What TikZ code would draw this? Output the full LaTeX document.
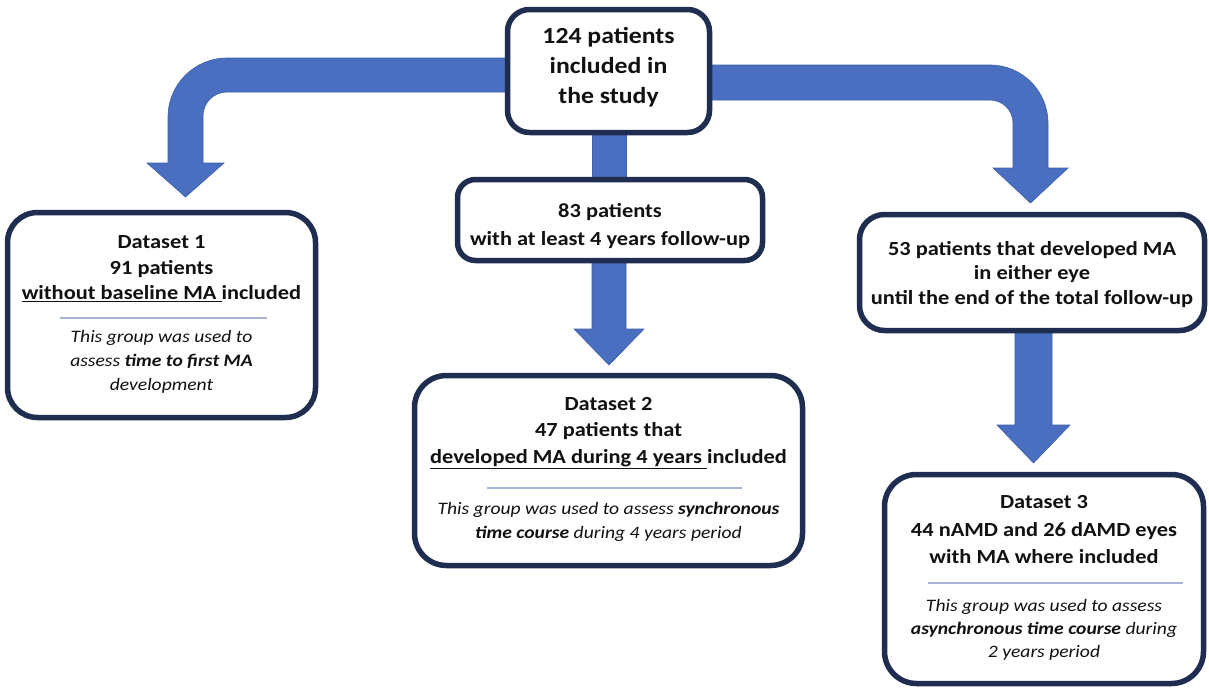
\documentclass[tikz,border=0pt]{standalone}
\usepackage{fontspec}
\setmainfont{Carlito}[FakeStretch=1.12]
\usetikzlibrary{calc}
\definecolor{navy}{HTML}{1F2D50}
\definecolor{arrowblue}{HTML}{4A6FC0}
\definecolor{arrowedge}{HTML}{3D5DA8}
\definecolor{seprule}{HTML}{A7B3DA}
\definecolor{txt}{HTML}{111111}
\begin{document}
\begin{tikzpicture}[x=1pt,y=-1pt,
  flowbox/.style={draw=navy, line width=5.5pt, fill=white, rounded corners=#1, inner sep=0pt, outer sep=0pt},
  blockarrow/.style={fill=arrowblue, draw=arrowedge, line width=0.6pt, line join=miter},
  boldtext/.style={text=txt, align=center, inner sep=0pt, font=\fontsize{20}{#1}\selectfont\bfseries},
  italtext/.style={text=txt, align=center, inner sep=0pt, font=\fontsize{17.5}{#1}\selectfont\itshape},
  sepline/.style={draw=seprule, line width=1.5pt}]
\fill[white] (0,0) rectangle (1209,689);
\useasboundingbox (0,0) rectangle (1209,689);

% boxes (positions)
\coordinate (cTop) at (608.5,71);
\coordinate (cB83) at (610,220);
\coordinate (cD1) at (161.5,315);
\coordinate (cD2) at (608.5,470.5);
\coordinate (cR53) at (1032,272.5);
\coordinate (cD3) at (1044,579);

% arrows (drawn first, boxes cover their ends)
\filldraw[blockarrow] (cTop |- 0,58) -- (227,58) .. controls (194.4,58) and (168,84.4) .. (168,117)
  -- (168,163) -- (147,163) -- (185.5,197) -- (224,163) -- (203,163) -- (203,116)
  .. controls (203,102.7) and (213.7,92) .. (227,92) -- (cTop |- 0,92) -- cycle;
\filldraw[blockarrow] (cTop |- 0,65) -- (990,65) .. controls (1022,65) and (1048,91) .. (1048,123)
  -- (1048,168) -- (1068,168) -- (1030.5,203) -- (993,168) -- (1013,168) -- (1013,123)
  .. controls (1013,110.3) and (1002.7,100) .. (990,100) -- (cTop |- 0,100) -- cycle;
\filldraw[blockarrow] (cTop -| 592,0) -- (cB83 -| 592,0) -- (cB83 -| 626,0) -- (cTop -| 626,0) -- cycle;
\filldraw[blockarrow] (cB83 -| 592,0) -- (592,329) -- (574,329) -- (609,365) -- (644,329) -- (626,329) -- (cB83 -| 626,0) -- cycle;
\filldraw[blockarrow] (cR53 -| 1015,0) -- (1015,425) -- (997,425) -- (1033.5,463) -- (1070,425) -- (1052,425) -- (cR53 -| 1052,0) -- cycle;

\node[flowbox=22, minimum width=202pt, minimum height=123pt] (top) at (cTop) {};
\node[flowbox=18, minimum width=305pt, minimum height=81pt] (b83) at (cB83) {};
\node[flowbox=30, minimum width=308pt, minimum height=205pt] (d1) at (cD1) {};
\node[flowbox=32, minimum width=388pt, minimum height=190pt] (d2) at (cD2) {};
\node[flowbox=25, minimum width=345pt, minimum height=116pt] (r53) at (cR53) {};
\node[flowbox=32, minimum width=319pt, minimum height=209pt] (d3) at (cD3) {};

% texts
\node[text=txt, align=center, inner sep=0pt, font=\fontsize{23}{30}\selectfont\bfseries] (toptxt) at (608.5,67) {124 patients\\included in\\the study};
\node[boldtext=28] (b83txt) at (610,226) {83 patients\\with at least 4 years follow-up};

\node[boldtext=25.5] (d1txt) at (161.5,269) {Dataset 1\\91 patients\\\underline{without baseline MA\ }included};
\draw[sepline] (60,318) -- (267,318);
\node[italtext=24] (d1note) at (161.5,362) {This group was used to\\assess \textbf{time to first MA}\\development};

\node[boldtext=26.5] (d2txt) at (608.5,433) {Dataset 2\\47 patients that\\\underline{developed MA during 4 years\ }included};
\draw[sepline] (487,488) -- (742,488);
\node[italtext=24] (d2note) at (608.5,522) {This group was used to assess \textbf{synchronous}\\\textbf{time course} during 4 years period};

\node[boldtext=24.5] (r53txt) at (1032,274.5) {53 patients that developed MA\\in either eye\\until the end of the total follow-up};

\node[boldtext=27.5] (d3txt) at (1044,530) {Dataset 3\\44 nAMD and 26 dAMD eyes\\with MA where included};
\draw[sepline] (928,583) -- (1183,583);
\node[italtext=23] (d3note) at (1044,630) {This group was used to assess\\\textbf{asynchronous time course} during\\2 years period};
\end{tikzpicture}
\end{document}
